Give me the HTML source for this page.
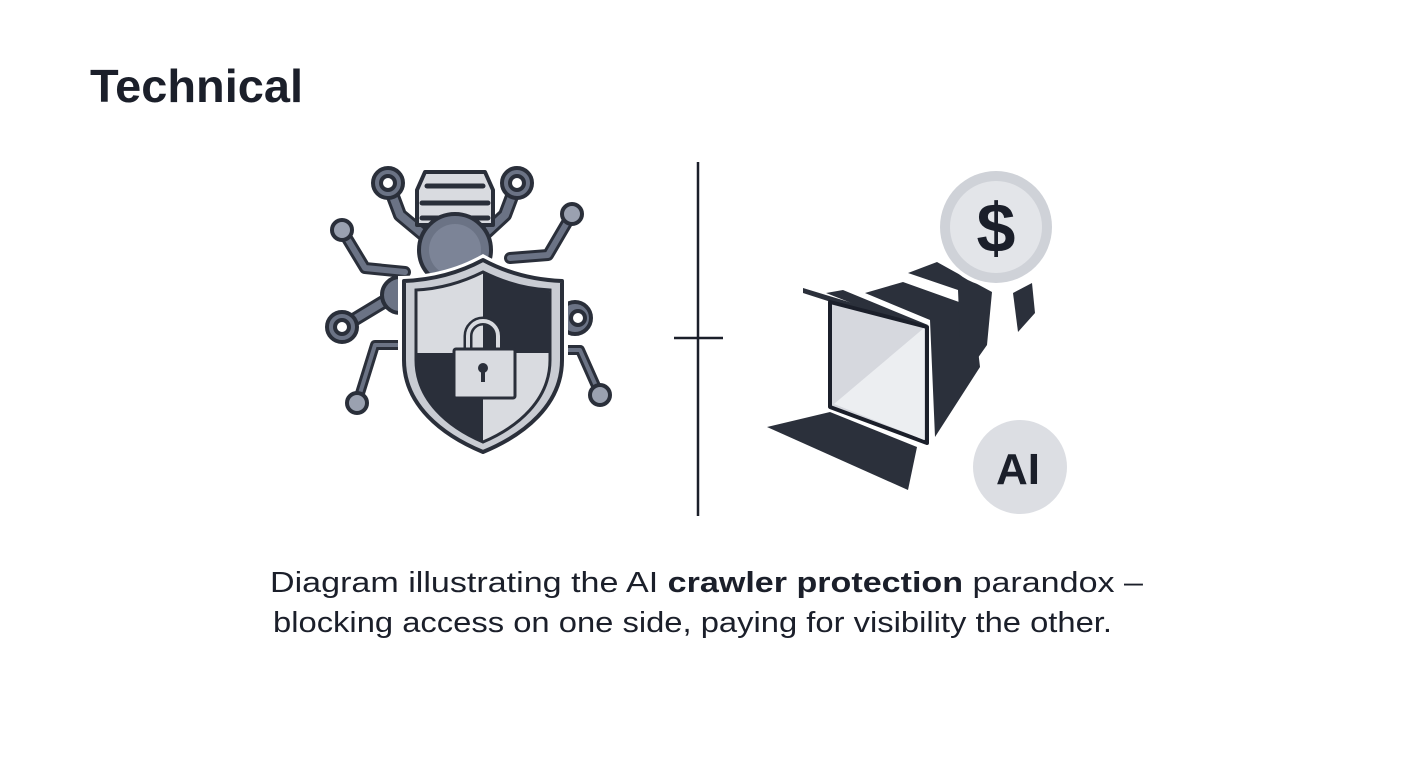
<!DOCTYPE html>
<html><head><meta charset="utf-8"><style>
html,body{margin:0;padding:0;background:#fff;}
svg{display:block;}
text{font-family:"Liberation Sans",sans-serif;fill:#1b1f2a;}
</style></head><body>
<svg width="1408" height="768" viewBox="0 0 1408 768" xmlns="http://www.w3.org/2000/svg">
<rect width="1408" height="768" fill="#fff"/>
<text x="90" y="102" font-size="46" font-weight="bold" textLength="213" lengthAdjust="spacingAndGlyphs" fill="#232732">Technical</text>

<line x1="698" y1="162" x2="698" y2="516" stroke="#1b1f2a" stroke-width="2.5"/>
<line x1="674" y1="338" x2="723" y2="338" stroke="#1b1f2a" stroke-width="2.5"/>

<g stroke="#2a2f3a" stroke-width="4" stroke-linejoin="round" stroke-linecap="round" fill="#6b7385">
 <path d="M388,183 L400,215 L430,240" fill="none" stroke="#2a2f3a" stroke-width="14"/>
 <path d="M388,183 L400,215 L430,240" fill="none" stroke="#6b7385" stroke-width="8"/>
 <path d="M517,183 L505,215 L478,240" fill="none" stroke="#2a2f3a" stroke-width="14"/>
 <path d="M517,183 L505,215 L478,240" fill="none" stroke="#6b7385" stroke-width="8"/>
 <path d="M342,230 L365,268 L405,272" fill="none" stroke="#2a2f3a" stroke-width="12"/>
 <path d="M342,230 L365,268 L405,272" fill="none" stroke="#6b7385" stroke-width="6"/>
 <path d="M572,214 L548,255 L510,258" fill="none" stroke="#2a2f3a" stroke-width="12"/>
 <path d="M572,214 L548,255 L510,258" fill="none" stroke="#6b7385" stroke-width="6"/>
 <path d="M342,327 L395,295" fill="none" stroke="#2a2f3a" stroke-width="14"/>
 <path d="M342,327 L395,295" fill="none" stroke="#6b7385" stroke-width="8"/>
 <path d="M357,403 L375,345 L400,345" fill="none" stroke="#2a2f3a" stroke-width="10"/>
 <path d="M357,403 L375,345 L400,345" fill="none" stroke="#6b7385" stroke-width="4"/>
 <path d="M600,395 L580,350 L560,350" fill="none" stroke="#2a2f3a" stroke-width="10"/>
 <path d="M600,395 L580,350 L560,350" fill="none" stroke="#6b7385" stroke-width="4"/>
 <circle cx="388" cy="183" r="15"/><circle cx="388" cy="183" r="7" fill="#fff"/>
 <circle cx="517" cy="183" r="15"/><circle cx="517" cy="183" r="7" fill="#fff"/>
 <circle cx="342" cy="230" r="10" fill="#9aa1b0"/>
 <circle cx="572" cy="214" r="10" fill="#9aa1b0"/>
 <circle cx="342" cy="327" r="15"/><circle cx="342" cy="327" r="7" fill="#fff"/>
 <circle cx="357" cy="403" r="10" fill="#9aa1b0"/>
 <circle cx="600" cy="395" r="10" fill="#9aa1b0"/>
 <circle cx="400" cy="295" r="18"/>
 <circle cx="575" cy="318" r="16"/><circle cx="578" cy="318" r="7" fill="#fff"/>
 <path d="M425,172 L485,172 L493,190 L493,225 L417,225 L417,190 Z" fill="#d9dbe0"/>
 <line x1="427" y1="186" x2="483" y2="186" stroke-width="5"/>
 <line x1="422" y1="203" x2="488" y2="203" stroke-width="5"/>
 <line x1="422" y1="218" x2="488" y2="218" stroke-width="5"/>
 <circle cx="455" cy="250" r="36" fill="#6b7385"/>
 <circle cx="455" cy="250" r="26" fill="#7c8497" stroke="none"/>
</g>
<path d="M483,254 C455,270 425,276 398,276 L398,360 C398,410 440,440 483,458 C526,440 568,410 568,360 L568,276 C541,276 511,270 483,254 Z" fill="#fff"/>
<path d="M483,260 C457,274 430,280 404,281 L404,360 C404,405 442,435 483,452 C524,435 562,405 562,360 L562,281 C536,280 509,274 483,260 Z" fill="#c9ccd3" stroke="#2a2f3a" stroke-width="4" stroke-linejoin="round"/>
<path d="M483,272 C461,283 438,289 416,290 L416,360 C416,400 448,427 483,442 C518,427 550,400 550,360 L550,290 C528,289 505,283 483,272 Z" fill="#d9dbe0" stroke="#2a2f3a" stroke-width="3"/>
<path d="M483,273 C505,283 528,289 549,290 L549,353 L483,353 Z" fill="#2a2f3a"/>
<path d="M417,353 L483,353 L483,441 C448,426 417,400 417,360 Z" fill="#2a2f3a"/>
<path d="M468,350 L468,336 A15,15 0 0 1 498,336 L498,350" fill="none" stroke="#2a2f3a" stroke-width="9"/>
<path d="M468,350 L468,336 A15,15 0 0 1 498,336 L498,350" fill="none" stroke="#d9dbe0" stroke-width="4"/>
<rect x="454" y="349" width="61" height="49" rx="2" fill="#d9dbe0" stroke="#2a2f3a" stroke-width="3"/>
<circle cx="483" cy="368" r="5" fill="#2a2f3a"/>
<rect x="481" y="368" width="4" height="14" fill="#2a2f3a"/>

<g fill="#2b303b">
 <path d="M865,293 L903,282 L973,307 L980,367 L935,437 L930,320 Z"/>
 <path d="M908,273 L937,262 L955,272 L992,292 L987,345 L975,362 L960,338 L958,290 Z"/>
 <path d="M1013,293 L1032,283 L1035,313 L1018,332 Z"/>
 <path d="M767,427 L830,412 L917,447 L908,490 Z"/>
 <path d="M803,288 L918,323 L918,330 L803,293 Z"/>
 <path d="M826,293 L843,290 L928,325 L912,327 Z"/>
</g>
<path d="M830,302 L927,327 L927,443 L830,407 Z" fill="#d6d8de" stroke="#1b1f2a" stroke-width="4" stroke-linejoin="round"/>
<path d="M834,404 L924,328 L924,440 Z" fill="#eceef1"/>
<circle cx="996" cy="227" r="60" fill="#fff"/>
<circle cx="996" cy="227" r="56" fill="#cfd2d8"/>
<circle cx="996" cy="227" r="46" fill="#e3e5e9"/>
<text x="996" y="252" font-size="70" font-weight="bold" text-anchor="middle" fill="#2b303b">$</text>
<circle cx="1020" cy="467" r="47" fill="#dcdee3"/>
<text x="1018" y="484" font-size="44" font-weight="bold" text-anchor="middle" fill="#2b303b">AI</text>

<text x="270" y="592" font-size="29" textLength="873" lengthAdjust="spacingAndGlyphs">Diagram illustrating the AI <tspan font-weight="bold">crawler protection</tspan> parandox –</text>
<text x="273" y="632" font-size="29" textLength="839" lengthAdjust="spacingAndGlyphs">blocking access on one side, paying for visibility the other.</text>
</svg>
</body></html>
